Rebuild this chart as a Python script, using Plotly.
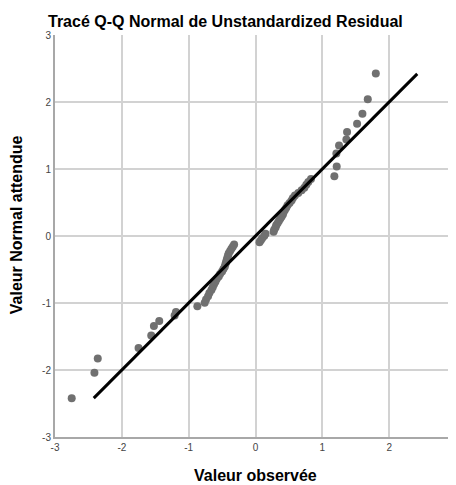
# Q-Q normal plot of unstandardized residuals

import plotly.graph_objects as go

observed = [
    -2.75, -2.41, -2.36, -1.75, -1.56, -1.52, -1.44, -1.21, -1.19, -0.87,
    -0.76, -0.74, -0.71, -0.69, -0.66, -0.64, -0.62, -0.60,
    -0.58, -0.55, -0.53, -0.50, -0.48, -0.46, -0.45, -0.44, -0.43, -0.42,
    -0.41, -0.40, -0.38, -0.36, -0.34, -0.32, 0.06, 0.08, 0.10, 0.13,
    0.15, 0.27, 0.28, 0.30, 0.31, 0.33, 0.35, 0.37, 0.39, 0.41,
    0.42, 0.44, 0.46, 0.48, 0.51, 0.54, 0.56, 0.59, 0.64, 0.69,
    0.73, 0.76, 0.79, 0.83, 1.18, 1.215, 1.21, 1.25,
    1.36, 1.37, 1.52, 1.60, 1.68, 1.80,
]
expected = [
    -2.42, -2.04, -1.83, -1.67, -1.485, -1.345, -1.27, -1.185, -1.135, -1.05,
    -0.997, -0.946, -0.898, -0.852, -0.807, -0.764, -0.722, -0.682,
    -0.643, -0.604, -0.567, -0.530, -0.494, -0.458, -0.423, -0.389, -0.355, -0.321,
    -0.288, -0.256, -0.223, -0.191, -0.159, -0.127, -0.095, -0.063, -0.032, 0.000,
    0.032, 0.063, 0.095, 0.127, 0.159, 0.191, 0.223, 0.256, 0.288, 0.321,
    0.355, 0.389, 0.423, 0.458, 0.494, 0.530, 0.567, 0.604, 0.643, 0.682,
    0.722, 0.764, 0.807, 0.852, 0.892, 1.037, 1.23, 1.35,
    1.44, 1.551, 1.677, 1.826, 2.04, 2.425,
]

tick_vals = [-3, -2, -1, 0, 1, 2, 3]
tick_text = ["-3", "-2", "-1", "0", "1", "2", "3"]

# Reference line y = x
line_ends = [-2.42, 2.42]

FONT = "Liberation Sans, Arial, sans-serif"

# The page body has an 8px margin, so the figure is sized to fit what is left
W, H = 448, 477

fig = go.Figure()

fig.add_trace(
    go.Scatter(
        x=observed,
        y=expected,
        mode="markers",
        marker=dict(color="#707070", size=8),
        showlegend=False,
    )
)

fig.add_trace(
    go.Scatter(
        x=line_ends,
        y=line_ends,
        mode="lines",
        line=dict(color="black", width=3),
        showlegend=False,
    )
)

axis_style = dict(
    range=[-3, 3],
    tickvals=tick_vals,
    ticktext=tick_text,
    showgrid=True,
    gridcolor="#d2d2d2",
    gridwidth=1.5,
    zeroline=False,
    showline=True,
    linecolor="#a8a8a8",
    linewidth=2,
    ticks="",
    tickfont=dict(family=FONT, size=10, color="#444444"),
)

fig.update_xaxes(**axis_style)
fig.update_yaxes(**axis_style)

fig.update_layout(
    width=W,
    height=H,
    margin=dict(l=47, r=0, t=27, b=48),
    paper_bgcolor="white",
    plot_bgcolor="white",
    title=dict(
        text="<b>Tracé Q-Q Normal de Unstandardized Residual</b>",
        font=dict(family=FONT, size=16, color="black"),
        xref="container",
        x=40 / W,
        xanchor="left",
        y=1 - 13 / H,
        yanchor="middle",
    ),
    annotations=[
        dict(
            text="<b>Valeur observée</b>",
            xref="paper", yref="paper",
            x=0.5, y=-0.095,
            xanchor="center", yanchor="middle",
            showarrow=False,
            font=dict(family=FONT, size=16, color="black"),
        ),
        dict(
            text="<b>Valeur Normal attendue</b>",
            xref="paper", yref="paper",
            x=-0.097, y=0.527,
            xanchor="center", yanchor="middle",
            textangle=-90,
            showarrow=False,
            font=dict(family=FONT, size=16, color="black"),
        ),
    ],
)

fig.write_html("out.html")
